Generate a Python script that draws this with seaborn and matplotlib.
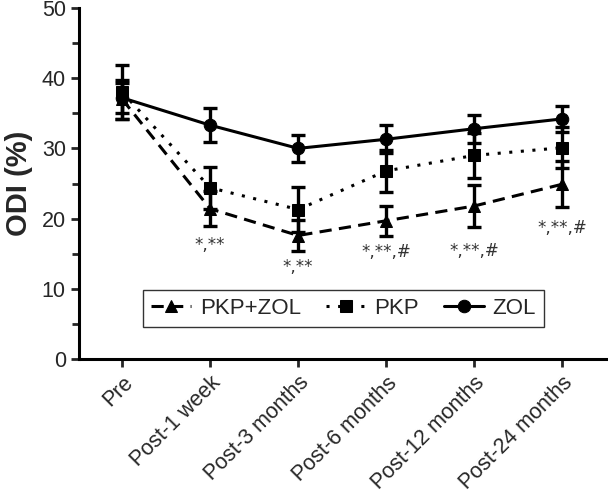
import numpy as np
import pandas as pd
import matplotlib
matplotlib.use("Agg")
import matplotlib.pyplot as plt
import seaborn as sns

timepoints = ["Pre", "Post-1 week", "Post-3 months", "Post-6 months",
              "Post-12 months", "Post-24 months"]
groups = ["PKP+ZOL", "PKP", "ZOL"]

pkp_zol_mean = [37.0, 21.4, 17.6, 19.7, 21.8, 24.9]
pkp_zol_sd = [2.8, 2.5, 2.2, 2.1, 3.0, 3.3]
pkp_mean = [38.0, 24.4, 21.3, 26.8, 29.0, 30.1]
pkp_sd = [3.8, 3.0, 3.2, 3.0, 3.2, 2.9]
zol_mean = [37.2, 33.3, 30.0, 31.3, 32.8, 34.2]
zol_sd = [2.1, 2.4, 1.9, 2.0, 2.0, 1.9]

annot_text = ["*,**", "*,**", "*,**,#", "*,**,#", "*,**,#"]
annot_y = [16.2, 13.1, 15.2, 15.4, 18.6]

df = pd.DataFrame({
    "x": list(range(len(timepoints))) * 3,
    "ODI": pkp_zol_mean + pkp_mean + zol_mean,
    "sd": pkp_zol_sd + pkp_sd + zol_sd,
    "group": [g for g in groups for _ in timepoints],
})

sns.set_theme(style="ticks")
plt.rcParams["font.family"] = ["Liberation Sans", "DejaVu Sans"]

fig = plt.figure(figsize=(6.08, 4.92), dpi=100)
ax = fig.add_axes([0.130, 0.270, 0.870, 0.714])

dashes = {"PKP+ZOL": (4, 2.4), "PKP": (1, 2.8), "ZOL": ""}
markers = {"PKP+ZOL": "^", "PKP": "s", "ZOL": "o"}
sns.lineplot(data=df, x="x", y="ODI", style="group", style_order=groups,
             dashes=dashes, markers=markers, color="black", linewidth=2.2,
             markersize=9, markeredgecolor="black", ax=ax, legend=True)

for g in groups:
    sub = df[df["group"] == g]
    ax.errorbar(sub["x"], sub["ODI"], yerr=sub["sd"], fmt="none",
                ecolor="black", elinewidth=2.4, capsize=5, capthick=2.4)

for i, (t, y) in enumerate(zip(annot_text, annot_y)):
    ax.text(i + 1, y, t, ha="center", va="center", fontsize=12,
            color="#333333", family="DejaVu Sans")

ax.set_xlim(-0.49, 5.52)
ax.set_ylim(0, 50)
ax.set_yticks([0, 10, 20, 30, 40, 50])
ax.set_yticks([5, 15, 25, 35, 45], minor=True)
ax.set_xticks(range(len(timepoints)))
ax.set_xticklabels(timepoints, rotation=45, ha="right",
                   rotation_mode="anchor", fontsize=15.5)
ax.tick_params(axis="y", labelsize=15.5, width=2, length=6)
ax.tick_params(axis="y", which="minor", width=2, length=5)
ax.tick_params(axis="x", width=2, length=6)
ax.set_xlabel("")
ax.set_ylabel("ODI (%)", fontsize=21, fontweight="bold", labelpad=6)
sns.despine(ax=ax)
for s in ["left", "bottom"]:
    ax.spines[s].set_linewidth(2.2)
    ax.spines[s].set_color("black")

leg = ax.legend(title=None, ncol=3, loc="lower center",
                bbox_to_anchor=(0.5, 0.06), fontsize=16, frameon=True,
                fancybox=False, edgecolor="black", handlelength=1.8,
                handletextpad=0.4, columnspacing=1.1, borderpad=0.35)
leg.get_frame().set_linewidth(1.0)

fig.savefig("out.png", dpi=100)
